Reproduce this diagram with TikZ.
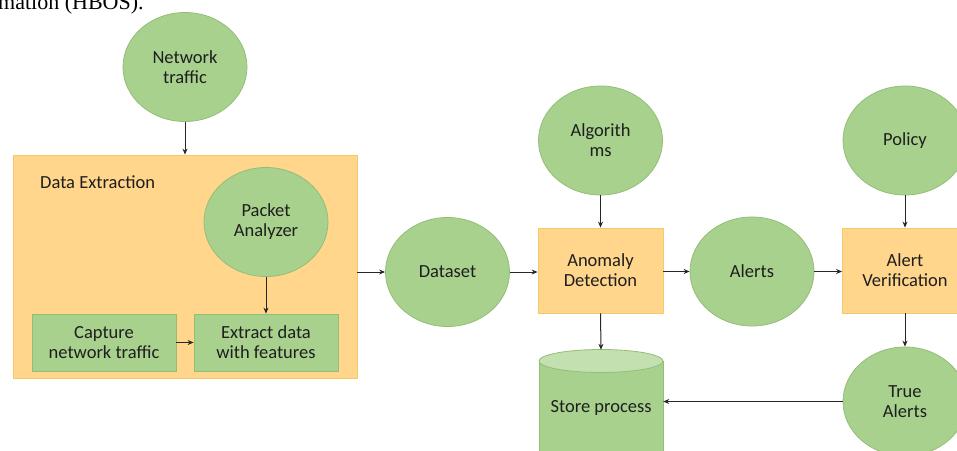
\documentclass[tikz,border=0pt]{standalone}
\usepackage{fontspec}
\setmainfont{Carlito}
\newfontfamily\capfont{Liberation Serif}
\usetikzlibrary{arrows.meta,calc,shapes.geometric}
\definecolor{gfill}{HTML}{A9D18E}
\definecolor{gline}{HTML}{93BE78}
\definecolor{gtop}{HTML}{C3E0B0}
\definecolor{ofill}{HTML}{FFD68C}
\definecolor{oline}{HTML}{F3C96A}
\definecolor{txt}{HTML}{1E1E1E}
\tikzset{
  lbl/.style={font=\fontsize{18.5}{20}\selectfont, text=txt},
  circ/.style={ellipse, draw=gline, fill=gfill, line width=0.8pt, minimum width=124pt, minimum height=109pt, inner sep=0pt, align=center, lbl},
  obox/.style={rectangle, draw=oline, fill=ofill, line width=0.8pt, minimum width=125pt, minimum height=85pt, inner sep=0pt, align=center, lbl},
  gbox/.style={rectangle, draw=gline, fill=gfill, line width=0.8pt, minimum width=144pt, minimum height=57pt, inner sep=0pt, align=center, lbl},
  arr/.style={draw=black!85, line width=1pt, -{Stealth[length=6pt,width=5pt]}},
}
\begin{document}
\begin{tikzpicture}[x=1pt,y=-1pt]
\useasboundingbox (0,0) rectangle (957,450);
% cropped caption fragment
\node[anchor=base west, inner sep=0pt, font=\capfont\fontsize{22}{24}\selectfont, text=black] (cap) at (-2,9) {mation (HBOS).};
% Data extraction container
\node[rectangle, draw=oline, fill=ofill, line width=0.8pt, minimum width=344pt, minimum height=223pt, inner sep=0pt] (dx) at (185,266.5) {};
\node[anchor=west, inner sep=0pt, lbl] (dxl) at (40,182) {Data Extraction};
\node[circ] (net) at (185,67) {Network\\traffic};
\node[circ] (pa) at (266,222) {Packet\\Analyzer};
\node[gbox] (cap1) at (104,342.5) {Capture\\network traffic};
\node[gbox] (ext) at (266,342.5) {Extract data\\with features};
\node[circ] (ds) at (447.5,272) {Dataset};
\node[obox] (ad) at (600.5,270.5) {Anomaly\\Detection};
\node[circ] (alg) at (600.5,140.5) {Algorith\\ms};
\node[circ] (al) at (752,271.5) {Alerts};
\node[obox] (av) at (905,270.5) {Alert\\Verification};
\node[circ] (pol) at (905,140.5) {Policy};
\node[circ] (ta) at (905,401.5) {True\\Alerts};
% store cylinder
\node[inner sep=0pt, minimum width=124pt, minimum height=110pt] (st) at (601,405) {};
\fill[gfill] (539,361) -- (539,470) -- (663,470) -- (663,361) -- cycle;
\draw[gline, line width=0.8pt] (539,361) -- (539,470) (663,361) -- (663,470);
\draw[gline, line width=0.8pt, fill=gtop] (601,361) ellipse [x radius=62, y radius=11.5];
\node[inner sep=0pt, lbl] (stl) at (601,408) {Store process};
% arrows
\draw[arr] (net.south) -- (dx.north);
\draw[arr] (pa.south) -- (ext.north);
\draw[arr] (cap1.east) -- (ext.west);
\draw[arr] (dx.east |- ds.west) -- (ds.west);
\draw[arr] (ds.east) -- (ad.west |- ds.east);
\draw[arr] (alg.south) -- (ad.north);
\draw[arr] (ad.east |- al.west) -- (al.west);
\draw[arr] (al.east) -- (av.west |- al.east);
\draw[arr] (pol.south) -- (av.north);
\draw[arr] (av.south) -- (ta.north);
\draw[arr] (ad.south) -- (st.north);
\draw[arr] (ta.west) -- (st.east |- ta.west);
\end{tikzpicture}
\end{document}
